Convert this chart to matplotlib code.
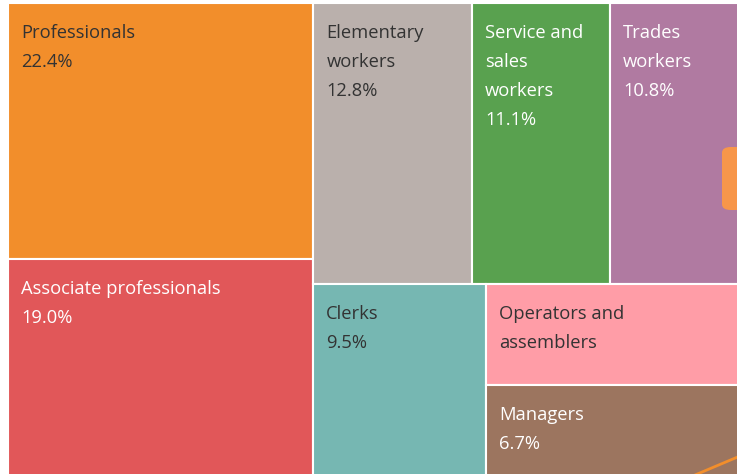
import matplotlib
matplotlib.use('Agg')
import matplotlib.pyplot as plt
from matplotlib.patches import Rectangle, FancyBboxPatch
from matplotlib.lines import Line2D

# occupation shares (%), Operators share not printed, estimated from its area
categories = ['Professionals', 'Associate professionals', 'Elementary workers',
              'Service and sales workers', 'Trades workers', 'Clerks',
              'Operators and assemblers', 'Managers']
shares = [22.4, 19.0, 12.8, 11.1, 10.8, 9.5, 7.5, 6.7]
labels = [['Professionals'], ['Associate professionals'], ['Elementary', 'workers'],
          ['Service and', 'sales', 'workers'], ['Trades', 'workers'], ['Clerks'],
          ['Operators and', 'assemblers'], ['Managers']]
show_pct = [True, True, True, True, True, True, False, True]
colors = ['#F28E2B', '#E15759', '#BAB0AC', '#59A14F', '#B07AA1', '#76B7B2',
          '#FF9DA7', '#9C755F']
text_colors = ['#333333', 'white', '#333333', 'white', 'white', '#333333',
               '#333333', 'white']

# nesting of the treemap: split direction alternates with depth
tree = [[0, 1], [[2, 3, 4], [5, [6, 7]]]]


def total(node):
    if isinstance(node, int):
        return shares[node]
    return sum(total(n) for n in node)


def layout(node, x, y, w, h, horizontal, out):
    if isinstance(node, int):
        out[node] = (x, y, w, h)
        return
    s = total(node)
    pos = 0.0
    for child in node:
        f = total(child) / s
        if horizontal:
            layout(child, x + pos * w, y, w * f, h, not horizontal, out)
        else:
            layout(child, x, y + pos * h, w, h * f, not horizontal, out)
        pos += f


rects = {}
layout(tree, 0, 0, 1, 1, True, rects)

fig = plt.figure(figsize=(7.37, 4.74), dpi=100)
W, H = 737, 474
# treemap area runs a little past the right and bottom edges of the picture
ax = fig.add_axes([8 / W, 1 - (3 + 473) / H, 736 / W, 473 / H])
ax.set_xlim(0, 1)
ax.set_ylim(1, 0)
ax.axis('off')

for i in range(len(categories)):
    x, y, w, h = rects[i]
    ax.add_patch(Rectangle((x, y), w, h, facecolor=colors[i],
                           edgecolor='white', linewidth=1.5))
    lines = labels[i] + ([f'{shares[i]:.1f}%'] if show_pct[i] else [])
    for k, line in enumerate(lines):
        ax.annotate(line, (x, y), xytext=(13, -35 - 29 * k),
                    textcoords='offset pixels', va='baseline', ha='left',
                    fontsize=13.2, family='Open Sans', color=text_colors[i])

# bits of the surrounding dashboard that poke into the crop
fig.patches.append(FancyBboxPatch((722 / W, 1 - 210 / H), 30 / W, 63 / H,
                                  boxstyle='round,pad=0,rounding_size=0.012',
                                  transform=fig.transFigure, facecolor='#F7964A',
                                  edgecolor='none'))
fig.lines.append(Line2D([695 / W, 740 / W], [1 - 475 / H, 1 - 456 / H],
                        transform=fig.transFigure, color='#F28E2B', linewidth=2))

fig.savefig('out.png', dpi=100, facecolor='white')
